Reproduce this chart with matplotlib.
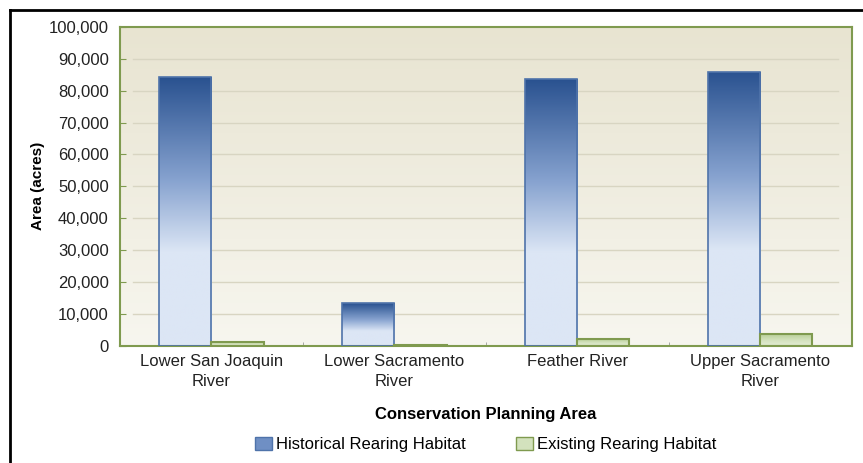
#! /usr/bin/python3
# -*- coding: utf-8 -*-

import matplotlib
matplotlib.use("Agg")
import matplotlib.pyplot as plt
import numpy as np
from matplotlib.colors import LinearSegmentedColormap
from matplotlib.lines import Line2D
from matplotlib.patches import Patch
from matplotlib.ticker import FuncFormatter

plt.rcParams['font.family'] = ['Liberation Sans', 'DejaVu Sans']

areas = ["Lower San Joaquin\nRiver", "Lower Sacramento\nRiver", "Feather River", "Upper Sacramento\nRiver"]
historical = [84300, 13400, 83500, 85900]
existing = [1200, 300, 2100, 3600]
series_names = ["Historical Rearing Habitat", "Existing Rearing Habitat"]

olive = "#7f9a4f"
blue_edge = "#4f73aa"

fig = plt.figure(figsize=(8.63, 4.63), dpi=100)
ax = fig.add_axes([0.139, 0.253, 0.848, 0.689])

# background gradient of the plot area
bg = LinearSegmentedColormap.from_list("bg", ["#f7f6ef", "#e8e4d1"])
ax.imshow(np.linspace(0, 1, 256).reshape(-1, 1), cmap=bg, aspect="auto",
          extent=(0, 1, 0, 1), transform=ax.transAxes, origin="lower", zorder=0)

x = np.arange(len(areas))
w = 0.285
hist_bars = ax.bar(x - w / 2, historical, w, facecolor="none", edgecolor=blue_edge, linewidth=1.2, zorder=3)
ex_bars = ax.bar(x + w / 2, existing, w, facecolor="none", edgecolor=olive, linewidth=1.5, zorder=3)

cm_blue = LinearSegmentedColormap.from_list("b", [(0, "#dce6f5"), (0.35, "#dce6f5"), (0.62, "#86a2cf"), (1, "#2a5290")])
cm_green = LinearSegmentedColormap.from_list("g", [(0, "#e4edd6"), (0.5, "#d3e2bd"), (1, "#b8cf98")])

def fill_gradient(bars, cmap):
    for b in bars:
        x0, y0 = b.get_x(), b.get_y()
        im = ax.imshow(np.linspace(0, 1, 256).reshape(-1, 1), cmap=cmap, aspect="auto", origin="lower",
                       extent=(x0, x0 + b.get_width(), y0, y0 + b.get_height()), zorder=2)
        im.set_clip_path(b)

fill_gradient(hist_bars, cm_blue)
fill_gradient(ex_bars, cm_green)

ax.set_xlim(-0.5, len(areas) - 0.5)
ax.set_ylim(0, 100000)
ax.set_yticks(np.arange(0, 100001, 10000))
ax.yaxis.set_major_formatter(FuncFormatter(lambda v, p: "{:,.0f}".format(v)))

for yv in np.arange(10000, 100000, 10000):
    ax.axhline(yv, xmin=0.018, xmax=0.981, color="#d8d5c2", linewidth=1.0, zorder=1)

ax.set_xticks(x)
ax.set_xticklabels(areas, fontsize=12, color="#222222", linespacing=1.4)
ax.tick_params(axis="x", length=0, pad=6)
ax.set_xticks(np.arange(0.5, len(areas) - 1, 1), minor=True)
ax.tick_params(axis="x", which="minor", length=3, direction="in", color="#999999")
ax.tick_params(axis="y", labelsize=12, labelcolor="#222222", direction="in", length=4, color=olive, pad=8)

for s in ax.spines.values():
    s.set_color(olive)
    s.set_linewidth(1.5)

ax.set_xlabel("Conservation Planning Area", fontsize=12, fontweight="bold", labelpad=13)
ax.set_ylabel("Area (acres)", fontsize=11, fontweight="bold", labelpad=3)

# legend
handles = [Patch(facecolor="#6f8fc4", edgecolor=blue_edge), Patch(facecolor="#d3e2bd", edgecolor=olive)]
fig.legend(handles, series_names, loc="center", bbox_to_anchor=(0.563, 0.04), ncol=2, frameon=False,
           fontsize=12, handlelength=1.0, handleheight=0.9, columnspacing=3.0, handletextpad=0.25)

# outer black frame (top and left)
fig.add_artist(Line2D([10 / 863, 10 / 863], [0, 1 - 10 / 463], color="black", linewidth=2))
fig.add_artist(Line2D([10 / 863, 1], [1 - 10 / 463, 1 - 10 / 463], color="black", linewidth=2))

plt.savefig("out.png", dpi=100)
